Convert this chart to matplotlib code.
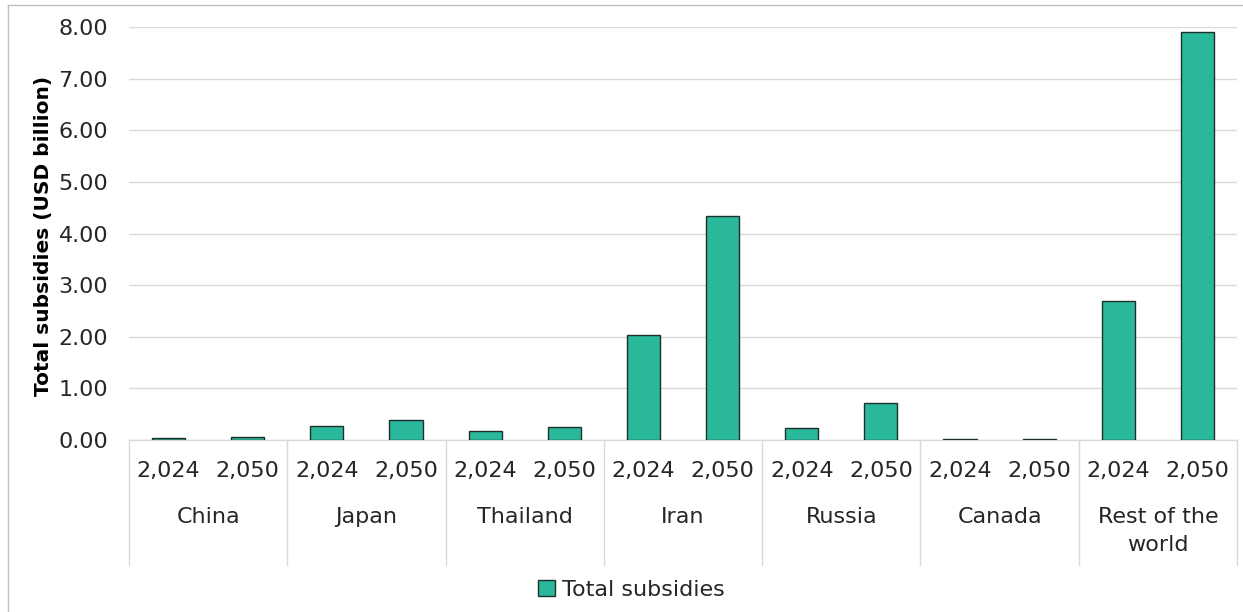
import matplotlib
matplotlib.use("Agg")
import matplotlib.pyplot as plt
from matplotlib.patches import Rectangle
import numpy as np

countries = ["China", "Japan", "Thailand", "Iran", "Russia", "Canada", "Rest of the\nworld"]
years = ["2,024", "2,050"]
subsidies_2024 = [0.03, 0.28, 0.17, 2.03, 0.24, 0.01, 2.69]
subsidies_2050 = [0.065, 0.38, 0.25, 4.34, 0.72, 0.01, 7.91]
yticks = [0, 1, 2, 3, 4, 5, 6, 7, 8]

plt.rcParams['font.family'] = ['DejaVu Sans']

fig = plt.figure(figsize=(12.43, 6.12), dpi=100)
W, H = 1243, 612
ax = fig.add_axes([129 / W, (H - 440) / H, (1237 - 129) / W, (440 - 27) / H])

values = []
for a, b in zip(subsidies_2024, subsidies_2050):
    values += [a, b]
x = np.arange(len(values))
color = "#29B99A"
ax.bar(x, values, width=0.42, color=color, edgecolor="#1f2f2b", linewidth=1.0, zorder=3)

ax.set_xlim(-0.5, len(values) - 0.5)
ax.set_ylim(0, 8)
ax.set_yticks(yticks)
ax.set_yticklabels([f"{v:.2f}" for v in yticks], fontsize=16, color="#262626")
ax.tick_params(axis='y', length=0, pad=15)
ax.set_xticks([])
ax.grid(axis='y', color="#d9d9d9", linewidth=1.0, zorder=0)
for s in ["top", "right", "left"]:
    ax.spines[s].set_visible(False)
ax.spines["bottom"].set_color("#d9d9d9")
ax.spines["bottom"].set_linewidth(1.0)

ax.set_ylabel("Total subsidies (USD billion)", fontsize=14.5, fontweight="bold", color="#000000")
ax.yaxis.set_label_coords(-(129 - 53) / 1108, (440 - 236) / 413)

trans = ax.get_xaxis_transform()
axh = 440 - 27
for i, xv in enumerate(x):
    ax.text(xv, -(471 - 440) / axh, years[i % 2], transform=trans, ha='center', va='center',
            fontsize=16, color="#262626")
for g, name in enumerate(countries):
    ax.text(2 * g + 0.5, -(507 - 440) / axh, name, transform=trans, ha='center', va='top',
            fontsize=16, color="#262626", linespacing=1.5)
for g in range(len(countries) + 1):
    ax.plot([2 * g - 0.5, 2 * g - 0.5], [0, -(565 - 440) / axh], transform=trans,
            color="#d9d9d9", linewidth=1.0, clip_on=False)

handle = Rectangle((0, 0), 1, 1, facecolor=color, edgecolor="#1f2f2b", linewidth=1.0)
fig.legend([handle], ["Total subsidies"], loc='center', bbox_to_anchor=(0.508, (H - 590) / H),
           frameon=False, fontsize=16, handlelength=0.75, handleheight=0.75, handletextpad=0.3,
           labelcolor="#262626")

# outer border (left and top)
fig.add_artist(plt.Line2D([8 / W, 8 / W], [0, 1 - 5 / H], color="#bfbfbf", linewidth=1.0))
fig.add_artist(plt.Line2D([8 / W, 1], [1 - 5 / H, 1 - 5 / H], color="#bfbfbf", linewidth=1.0))

fig.savefig("out.png", dpi=100)
